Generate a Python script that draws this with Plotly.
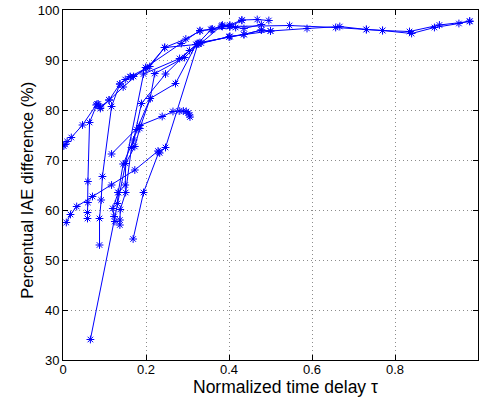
import plotly.graph_objects as go

# Data series (normalized time delay tau, percentual IAE difference)
s1_x = [0.002, 0.005, 0.010, 0.020, 0.047, 0.080, 0.085, 0.090, 0.111, 0.137, 0.150, 0.162, 0.170, 0.202, 0.245, 0.296, 0.330, 0.360, 0.384, 0.402, 0.431, 0.468, 0.496]
s1_y = [72.8, 73.1, 73.7, 74.5, 77.0, 81.0, 81.2, 80.6, 82.0, 85.2, 86.1, 86.6, 86.7, 88.3, 92.5, 94.2, 95.8, 96.2, 96.7, 97.0, 98.0, 98.1, 97.9]

s2_x = [0.059, 0.059, 0.060, 0.060, 0.064, 0.082, 0.090, 0.111, 0.145, 0.199, 0.285, 0.330, 0.357, 0.382, 0.402, 0.546, 0.657, 0.731, 0.770, 0.835, 0.907, 0.980]
s2_y = [58.3, 59.5, 61.5, 65.7, 77.5, 81.2, 80.3, 82.0, 84.6, 88.5, 93.3, 95.9, 96.1, 96.8, 96.7, 96.9, 96.5, 96.1, 95.9, 95.7, 97.0, 97.7]

s3_x = [0.088, 0.088, 0.092, 0.095, 0.117, 0.137, 0.162, 0.209, 0.245, 0.321, 0.402, 0.436, 0.478, 0.500, 0.588, 0.667, 0.731, 0.770, 0.840, 0.895, 0.954, 0.980]
s3_y = [53.0, 58.3, 62.0, 66.7, 80.7, 85.2, 86.7, 88.7, 92.5, 93.1, 94.7, 95.1, 96.0, 95.8, 96.3, 96.7, 96.1, 95.9, 95.3, 96.5, 97.3, 97.8]

s4_x = [0.066, 0.194, 0.281, 0.325, 0.357, 0.416, 0.436, 0.478]
s4_y = [34.1, 87.2, 90.3, 93.3, 96.1, 96.5, 96.3, 97.1]

s5_x = [0.125, 0.123, 0.120, 0.133, 0.145, 0.170, 0.189, 0.247, 0.305, 0.330, 0.400, 0.436, 0.478]
s5_y = [57.7, 58.7, 60.3, 63.5, 69.2, 74.0, 81.3, 87.2, 91.9, 93.5, 94.6, 95.1, 96.0]

s6_x = [0.137, 0.137, 0.138, 0.151, 0.165, 0.178, 0.210, 0.221, 0.293, 0.327, 0.402, 0.500]
s6_y = [57.0, 58.0, 60.1, 63.5, 72.5, 76.1, 82.3, 87.3, 90.5, 93.3, 94.7, 95.8]

s7_x = [0.131, 0.133, 0.150, 0.151, 0.173, 0.185, 0.210, 0.271, 0.321]
s7_y = [61.3, 63.5, 65.0, 69.3, 72.7, 76.3, 82.3, 85.3, 93.1]

s8_x = [0.117, 0.185, 0.239, 0.265, 0.280, 0.290, 0.297, 0.302, 0.305, 0.306]
s8_y = [71.2, 76.9, 78.7, 79.7, 79.8, 79.8, 79.7, 79.4, 79.0, 78.6]

s9_x = [0.008, 0.018, 0.033, 0.071, 0.117, 0.173, 0.229, 0.233]
s9_y = [57.5, 59.1, 60.7, 62.7, 65.0, 68.0, 71.8, 71.4]

s10_x = [0.169, 0.194, 0.231, 0.247, 0.325, 0.333, 0.384, 0.402, 0.431]
s10_y = [54.2, 63.5, 71.6, 72.5, 93.2, 93.4, 97.0, 96.7, 97.9]

series = [(s1_x, s1_y), (s2_x, s2_y), (s3_x, s3_y), (s4_x, s4_y), (s5_x, s5_y),
          (s6_x, s6_y), (s7_x, s7_y), (s8_x, s8_y), (s9_x, s9_y), (s10_x, s10_y)]

x_ticks = [0, 0.2, 0.4, 0.6, 0.8, 1]
x_tick_labels = ["0", "0.2", "0.4", "0.6", "0.8", "1"]
y_ticks = [30, 40, 50, 60, 70, 80, 90, 100]
x_title = "Normalized time delay τ"
y_title = "Percentual IAE difference (%)"

fig = go.Figure()
for sx, sy in series:
    fig.add_trace(go.Scatter(
        x=sx, y=sy, mode="lines+markers",
        line=dict(color="#0000ff", width=1),
        marker=dict(symbol="asterisk-open", size=6.5, color="#0000ff",
                    line=dict(color="#0000ff", width=1)),
        showlegend=False, hoverinfo="skip"))

font_family = "Liberation Sans, Arial, Helvetica, sans-serif"
axis_common = dict(
    showline=True, linecolor="black", linewidth=1, mirror="ticks",
    ticks="inside", ticklen=5, tickcolor="black", tickwidth=1,
    showgrid=True, gridcolor="#8c8c8c", griddash="1px,3px", gridwidth=1,
    zeroline=False, automargin=False,
    tickfont=dict(family=font_family, size=13, color="black"),
)

fig.update_layout(
    width=479, height=398,
    margin=dict(l=63, r=1, t=10, b=38, autoexpand=False),
    paper_bgcolor="white", plot_bgcolor="white",
    font=dict(family=font_family, color="black"),
    hovermode=False,
    xaxis=dict(range=[0, 1], tickvals=x_ticks, ticktext=x_tick_labels,
               ticklabelstandoff=-3, **axis_common),
    yaxis=dict(range=[30, 100], tickvals=y_ticks, **axis_common),
    annotations=[
        dict(text=x_title, xref="paper", yref="paper", x=0.535, y=-0.076,
             xanchor="center", yanchor="middle", showarrow=False,
             font=dict(size=17.5, family=font_family, color="black")),
        dict(text=y_title, xref="paper", yref="paper", x=-0.087, y=0.486,
             xanchor="center", yanchor="middle", showarrow=False, textangle=-90,
             font=dict(size=16.5, family=font_family, color="black")),
    ],
)

# remove the browser's default 8px body margin so the figure fills the window
fig.write_html("out.html", config={"displayModeBar": False},
               post_script="document.body.style.margin='0';")
